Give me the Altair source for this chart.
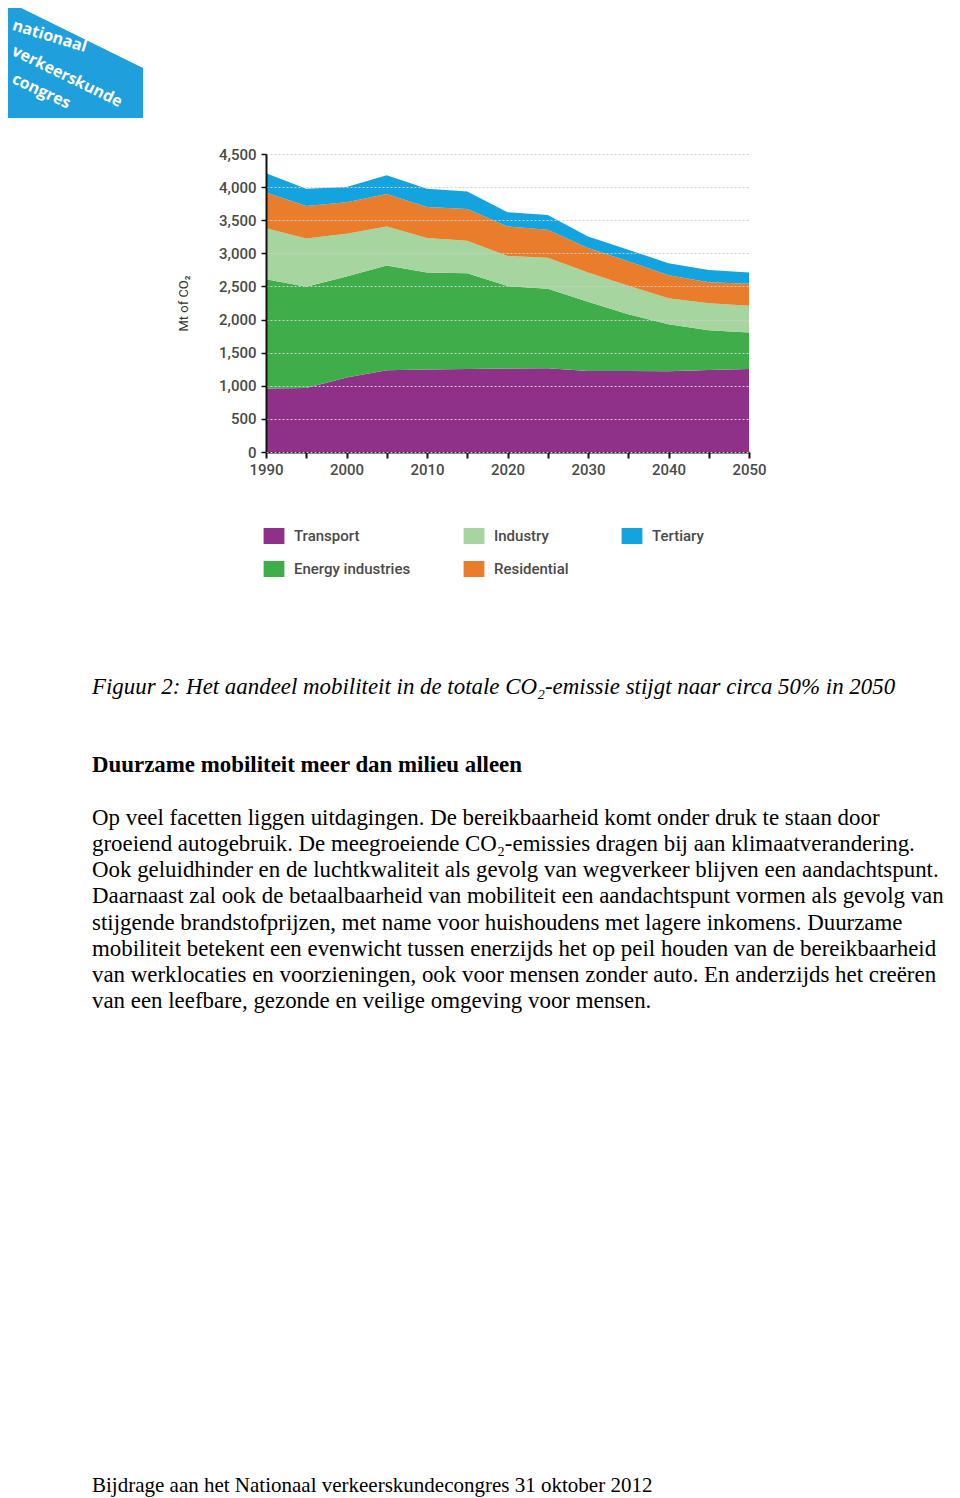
import altair as alt
import pandas as pd

# ---------------- data ----------------
years = [1990, 1995, 2000, 2005, 2010, 2015, 2020, 2025, 2030, 2035, 2040, 2045, 2050]
transport = [960, 965, 1125, 1235, 1245, 1255, 1260, 1265, 1225, 1225, 1220, 1240, 1255]
energy_industries = [1650, 1530, 1525, 1580, 1465, 1445, 1245, 1200, 1045, 855, 710, 600, 550]
industry = [770, 730, 645, 590, 520, 490, 455, 470, 440, 430, 390, 405, 405]
residential = [540, 490, 475, 490, 470, 480, 445, 420, 370, 370, 350, 320, 330]
tertiary = [290, 260, 230, 285, 275, 265, 215, 225, 175, 175, 180, 185, 170]

stack_order = ["Transport", "Energy industries", "Industry", "Residential", "Tertiary"]
legend_order = ["Transport", "Industry", "Tertiary", "Energy industries", "Residential"]
series_colors = {
    "Transport": "#8f3189",
    "Energy industries": "#3fae4a",
    "Industry": "#a6d5a0",
    "Residential": "#e97d2c",
    "Tertiary": "#13a3de",
}
x_ticks = [1990, 1995, 2000, 2005, 2010, 2015, 2020, 2025, 2030, 2035, 2040, 2045, 2050]
y_ticks = [0, 500, 1000, 1500, 2000, 2500, 3000, 3500, 4000, 4500]
y_title = "Mt of CO\u2082"

logo_lines = ["nationaal", "verkeerskunde", "congres"]
caption = ["Figuur 2: Het aandeel mobiliteit in de totale CO\u2082-emissie stijgt naar circa 50% in 2050"]
heading = ["Duurzame mobiliteit meer dan milieu alleen"]
paragraph = [
    "Op veel facetten liggen uitdagingen. De bereikbaarheid komt onder druk te staan door",
    "groeiend autogebruik. De meegroeiende CO\u2082-emissies dragen bij aan klimaatverandering.",
    "Ook geluidhinder en de luchtkwaliteit als gevolg van wegverkeer blijven een aandachtspunt.",
    "Daarnaast zal ook de betaalbaarheid van mobiliteit een aandachtspunt vormen als gevolg van",
    "stijgende brandstofprijzen, met name voor huishoudens met lagere inkomens. Duurzame",
    "mobiliteit betekent een evenwicht tussen enerzijds het op peil houden van de bereikbaarheid",
    "van werklocaties en voorzieningen, ook voor mensen zonder auto. En anderzijds het creëren",
    "van een leefbare, gezonde en veilige omgeving voor mensen.",
]
footer = ["Bijdrage aan het Nationaal verkeerskundecongres 31 oktober 2012"]

# ---------------- tables ----------------
series_values = {
    "Transport": transport,
    "Energy industries": energy_industries,
    "Industry": industry,
    "Residential": residential,
    "Tertiary": tertiary,
}
rows = []
for rank, name in enumerate(stack_order):
    for yr, v in zip(years, series_values[name]):
        rows.append({"year": yr, "value": v, "series": name, "rank": rank})
df = pd.DataFrame(rows)

# plot area origin is at page (266,154); all decorations are relative to it
W, H = 483, 298
OX, OY = 266, 154

axis_font = "Roboto"
axis_color = "#4a4a4a"

area = alt.Chart(df).mark_area(interpolate="linear").encode(
    x=alt.X(
        "year:Q",
        scale=alt.Scale(domain=[1990, 2050], nice=False, zero=False),
        axis=alt.Axis(
            values=x_ticks,
            labelExpr="datum.value % 10 == 0 ? '' + datum.value : ''",
            labelFlush=False,
            labelOverlap=False,
            title=None,
            grid=False,
            domainColor="#111111",
            domainWidth=2,
            tickColor="#111111",
            tickWidth=2,
            tickSize=6,
            labelFont=axis_font,
            labelFontSize=15,
            labelFontWeight=500,
            labelColor=axis_color,
            labelPadding=4,
        ),
    ),
    y=alt.Y(
        "value:Q",
        stack="zero",
        scale=alt.Scale(domain=[0, 4500], nice=False),
        axis=alt.Axis(
            values=y_ticks,
            labelExpr="format(datum.value, ',')",
            labelOverlap=False,
            labelFlush=False,
            title=y_title,
            titleX=-83,
            titleY=H / 2,
            titleAngle=-90,
            titleAlign="center",
            titleBaseline="middle",
            titleFont=axis_font,
            titleFontSize=13,
            titleFontWeight="normal",
            titleColor="#333333",
            grid=True,
            gridColor="#cfcfcf",
            gridDash=[2, 2],
            gridWidth=1,
            domainColor="#111111",
            domainWidth=2,
            tickColor="#111111",
            tickWidth=1.5,
            tickSize=5,
            labelFont=axis_font,
            labelFontSize=15,
            labelFontWeight=500,
            labelColor=axis_color,
            labelPadding=5,
            zindex=1,
        ),
    ),
    color=alt.Color(
        "series:N",
        scale=alt.Scale(domain=legend_order, range=[series_colors[s] for s in legend_order]),
        legend=alt.Legend(
            title=None,
            orient="none",
            direction="horizontal",
            legendX=0,
            legendY=374,
            columns=3,
            columnPadding=52,
            rowPadding=17,
            padding=0,
            symbolType="M-1.3,-1H1.3V1H-1.3Z",
            symbolSize=256,
            symbolStrokeWidth=0,
            symbolOpacity=1,
            labelFont=axis_font,
            labelFontSize=15,
            labelFontWeight=500,
            labelColor=axis_color,
            labelOffset=12,
            labelLimit=300,
        ),
    ),
    order=alt.Order("rank:Q", sort="ascending"),
)

# logo shape
logo_df = pd.DataFrame({"px": [5 - OX, 143 - OX], "top": [0 - OY, 68 - OY], "bot": [118 - OY, 118 - OY]})
logo_shape = alt.Chart(logo_df).mark_area(color="#1fa0dc", interpolate="linear").encode(
    x=alt.X("px:Q", scale=None, axis=None),
    y=alt.Y("top:Q", scale=None, axis=None),
    y2="bot:Q",
)

logo_pos = [(13, 25, 17), (13, 50, 26), (13, 78, 25)]  # (x, y, angle) for each logo line
logo_layers = []
for (lx, ly, la), word in zip(logo_pos, logo_lines):
    logo_layers.append(
        alt.Chart(pd.DataFrame({"t": [word]})).mark_text(
            font="Open Sans", fontWeight="bold", fontSize=16, color="white",
            angle=la, align="left", baseline="middle",
        ).encode(x=alt.value(lx - OX), y=alt.value(ly - OY), text="t:N")
    )


def text_layer(lines, base_y, step, **mark_kw):
    d = pd.DataFrame({"t": lines, "i": list(range(len(lines)))})
    return alt.Chart(d).mark_text(align="left", baseline="alphabetic", color="black", **mark_kw).transform_calculate(
        px="%d" % (92 - OX),
        py="%f + %f * datum.i" % (base_y - OY, step),
    ).encode(
        x=alt.X("px:Q", scale=None, axis=None),
        y=alt.Y("py:Q", scale=None, axis=None),
        text="t:N",
    )


serif = "Liberation Serif"
cap_layer = text_layer(caption, 694, 0, font=serif, fontStyle="italic", fontSize=22.9)
head_layer = text_layer(heading, 772, 0, font=serif, fontWeight="bold", fontSize=22.9)
para_layer = text_layer(paragraph, 825, 26.15, font=serif, fontSize=22.9)
foot_layer = text_layer(footer, 1492, 0, font=serif, fontSize=21)

chart = alt.layer(
    area, logo_shape, *logo_layers, cap_layer, head_layer, para_layer, foot_layer
).resolve_scale(
    x="independent", y="independent"
).properties(
    width=W,
    height=H,
    autosize=alt.AutoSizeParams(type="none"),
    padding={"left": OX - 8, "top": OY - 8, "right": 944 - (OX - 8) - W, "bottom": 1490 - (OY - 8) - H},
).configure_view(stroke=None)

chart.save("out.html", embed_options={"renderer": "svg", "actions": False})
